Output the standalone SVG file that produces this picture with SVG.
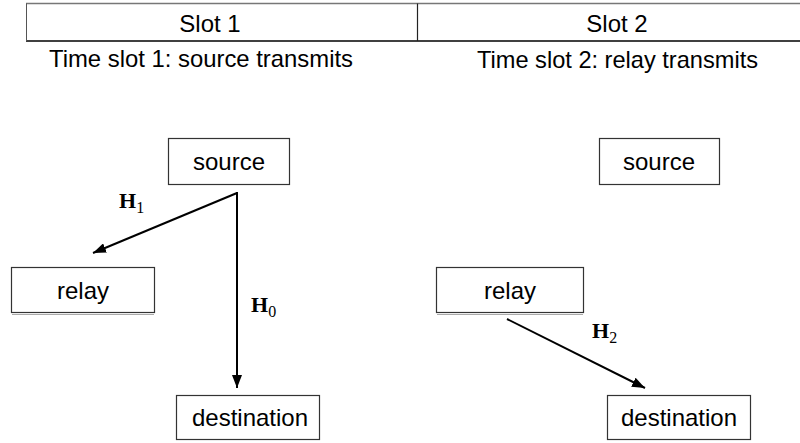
<svg xmlns="http://www.w3.org/2000/svg" width="800" height="443" viewBox="0 0 800 443">
<style>
.box{fill:#fff;stroke:#333;stroke-width:1.2}
.lbl{font-family:"Liberation Sans",Arial,sans-serif;font-size:24px;fill:#000;text-anchor:middle}
.cap{font-family:"Liberation Sans",Arial,sans-serif;font-size:24px;fill:#000}
.conn{stroke:#000;stroke-width:2;fill:none}
.hb{font-family:"Liberation Serif","Times New Roman",serif;font-size:22px;font-weight:bold;fill:#000}
.hs{font-family:"Liberation Serif","Times New Roman",serif;font-size:16px;font-weight:normal;fill:#000}
.shadow{stroke:#aaa;stroke-width:1}
</style>
<defs>
<marker id="arr" markerUnits="userSpaceOnUse" markerWidth="14" markerHeight="10" refX="13" refY="5" orient="auto">
<path d="M0,0 L13,5 L0,10 z" fill="#000"/>
</marker>
</defs>
<rect width="800" height="443" fill="#fff"/>
<g id="header">
<line x1="26" y1="3.5" x2="800" y2="3.5" stroke="#777" stroke-width="1.5"/>
<line x1="26" y1="41" x2="800" y2="41" stroke="#000" stroke-width="1.5"/>
<line x1="26.5" y1="3.5" x2="26.5" y2="41" stroke="#555" stroke-width="1"/>
<line x1="417.5" y1="3.5" x2="417.5" y2="41" stroke="#222" stroke-width="1.2"/>
<text class="lbl" x="210" y="32">Slot 1</text>
<text class="lbl" x="617" y="32">Slot 2</text>
<text class="cap" x="49" y="67" textLength="304" lengthAdjust="spacingAndGlyphs">Time slot 1: source transmits</text>
<text class="cap" x="477" y="68" textLength="281" lengthAdjust="spacingAndGlyphs">Time slot 2: relay transmits</text>
</g>
<g id="source1">
<rect class="box" x="168.5" y="138.5" width="121" height="46"/>
<text class="lbl" x="229" y="170">source</text>
</g>
<g id="relay1">
<rect class="box" x="11.5" y="267.5" width="143" height="45"/>
<line class="shadow" x1="12" y1="314.5" x2="154" y2="314.5"/>
<text class="lbl" x="83" y="299">relay</text>
</g>
<g id="destination1">
<rect class="box" x="176.5" y="395.5" width="143" height="44"/>
<text class="lbl" x="250" y="426">destination</text>
</g>
<g id="source2">
<rect class="box" x="599.5" y="138.5" width="120" height="46"/>
<text class="lbl" x="659" y="170">source</text>
</g>
<g id="relay2">
<rect class="box" x="436.5" y="267.5" width="147" height="45"/>
<line class="shadow" x1="437" y1="314.5" x2="583" y2="314.5"/>
<text class="lbl" x="510" y="299">relay</text>
</g>
<g id="destination2">
<rect class="box" x="607.5" y="395.5" width="143" height="44"/>
<text class="lbl" x="679" y="426">destination</text>
</g>
<g id="connectors">
<line class="conn" x1="237" y1="193" x2="93" y2="253" marker-end="url(#arr)"/>
<line class="conn" x1="237" y1="192" x2="237" y2="388" marker-end="url(#arr)"/>
<line class="conn" x1="507" y1="319" x2="645" y2="388" marker-end="url(#arr)"/>
<text x="119" y="208"><tspan class="hb">H</tspan><tspan class="hs" dy="5">1</tspan></text>
<text x="251" y="312"><tspan class="hb">H</tspan><tspan class="hs" dy="5">0</tspan></text>
<text x="592" y="338"><tspan class="hb">H</tspan><tspan class="hs" dy="5">2</tspan></text>
</g>
</svg>
